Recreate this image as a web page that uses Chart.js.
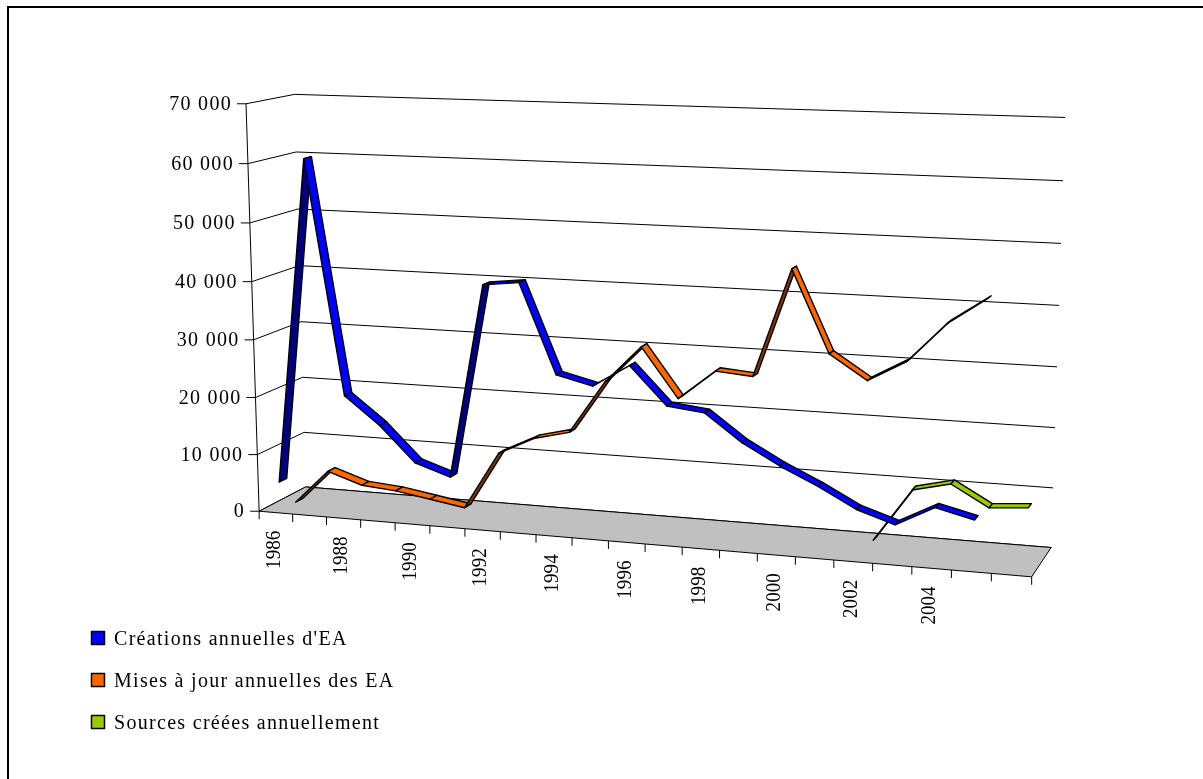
<!DOCTYPE html>
<html lang="fr">
<head>
<meta charset="utf-8">
<title>Créations et mises à jour annuelles</title>
<script src="https://cdn.jsdelivr.net/npm/chart.js@4/dist/chart.umd.min.js"></script>
<style>
  html, body { margin: 0; padding: 0; background: #ffffff; }
  canvas { display: block; }
</style>
</head>
<body>
<canvas id="chart" width="1203" height="779"></canvas>
<script>
// Categories: one cell per year on the floor of the 3D plot
const years = ['1986', '1987', '1988', '1989', '1990', '1991', '1992', '1993', '1994', '1995',
               '1996', '1997', '1998', '1999', '2000', '2001', '2002', '2003', '2004', '2005', '2006'];
// Years written under the floor edge
const labelledYears = ['1986', '1988', '1990', '1992', '1994', '1996', '1998', '2000', '2002', '2004'];
// Value axis ticks
const valueTicks = [0, 10000, 20000, 30000, 40000, 50000, 60000, 70000];

// Series values, one entry per year (null = no value)
const creationsEA = [5000, 61000, 21000, 16300, 10300, 8300, 41300, 42000, 27000, 25500,
                     29300, 23000, 22300, 17800, 14400, 11500, 8200, 6200, 9500, 8000, null];
const misesAJourEA = [0, 6000, 4000, 3500, 2500, 1500, 11500, 14500, 16000, 25000,
                      31300, 23000, 28000, 27500, 45500, 32000, 28000, 31500, 38000, 42300, null];
const sourcesCreees = [null, null, null, null, null, null, null, null, null, null,
                       null, null, null, null, null, null, 0, 9000, 10500, 7000, 7500];

const seriesNames = ["Créations annuelles d'EA", 'Mises à jour annuelles des EA', 'Sources créées annuellement'];
const seriesColors = ['#0000FF', '#FF6600', '#99CC00'];
const seriesShadeColors = ['#000080', '#803300', '#4D6600'];

// Perspective box of the plot: (category, value, depth) in [0,1] -> page pixels
const boxCorners = [
  [0, 0, 0, 259.5, 511], [1, 0, 0, 1032, 577], [0, 0, 1, 307, 488], [1, 0, 1, 1051, 547],
  [0, 1, 1, 295, 95], [1, 1, 1, 1065, 117], [0, 1, 0, 246, 104],
  [0, 6 / 7, 1, 297, 151], [0, 3 / 7, 1, 298.3, 321.7], [0, 2 / 7, 1, 301.7, 376.7],
  [0, 1 / 7, 1, 305, 432.3], [1, 6 / 7, 1, 1063.3, 181], [1, 5 / 7, 1, 1061, 244],
  [10 / 21, 0, 0, 609, 541], [5 / 21, 0, 0, 429, 525.5], [15 / 21, 0, 0, 795, 556.7]
];

function fitProjection(pairs) {
  const n = 11;
  const M = Array.from({ length: n }, () => new Array(n + 1).fill(0));
  const add = (row, b) => {
    for (let i = 0; i < n; i++) {
      for (let j = 0; j < n; j++) M[i][j] += row[i] * row[j];
      M[i][n] += row[i] * b;
    }
  };
  pairs.forEach(([u, v, w, x, y]) => {
    add([u, v, w, 1, 0, 0, 0, 0, -x * u, -x * v, -x * w], x);
    add([0, 0, 0, 0, u, v, w, 1, -y * u, -y * v, -y * w], y);
  });
  for (let c = 0; c < n; c++) {
    let piv = c;
    for (let r = c + 1; r < n; r++) if (Math.abs(M[r][c]) > Math.abs(M[piv][c])) piv = r;
    [M[c], M[piv]] = [M[piv], M[c]];
    for (let r = 0; r < n; r++) {
      if (r === c) continue;
      const f = M[r][c] / M[c][c];
      for (let k = c; k <= n; k++) M[r][k] -= f * M[c][k];
    }
  }
  const p = M.map((row, i) => row[n] / row[i]);
  return (u, v, w) => {
    const d = p[8] * u + p[9] * v + p[10] * w + 1;
    return {
      x: (p[0] * u + p[1] * v + p[2] * w + p[3]) / d,
      y: (p[4] * u + p[5] * v + p[6] * w + p[7]) / d
    };
  };
}
const project = fitProjection(boxCorners);

const SERIF = '"Liberation Serif", "Times New Roman", serif';
const rowDepth = [1 / 6, 1 / 2, 5 / 6];   // depth row of each series (front to back)
const ribbonHalf = 0.08;                   // half depth of a ribbon

function formatThousands(v) {
  return String(v).replace(/\B(?=(\d{3})+(?!\d))/g, ' ');
}

const excel3d = {
  id: 'excel3d',
  beforeDraw(chart) {
    const ctx = chart.ctx;
    ctx.save();
    ctx.fillStyle = '#ffffff';
    ctx.fillRect(0, 0, chart.width, chart.height);
    ctx.restore();
  },
  beforeDatasetsDraw() {
    return false;
  },
  afterDraw(chart) {
    const ctx = chart.ctx;
    const area = chart.chartArea;
    const xs = chart.scales.x;
    const ys = chart.scales.y;
    const U = px => (px - area.left) / (area.right - area.left);
    const V = py => (area.bottom - py) / (area.bottom - area.top);
    const nCat = chart.data.labels.length;
    const halfCell = (xs.getPixelForValue(1) - xs.getPixelForValue(0)) / 2;

    ctx.save();
    // chart frame
    ctx.strokeStyle = '#000000';
    ctx.lineWidth = 2;
    ctx.strokeRect(8, 7, 1240, 820);

    // walls: value gridlines on the side wall and the back wall
    ctx.lineWidth = 1;
    ctx.strokeStyle = '#000000';
    valueTicks.forEach(t => {
      const v = V(ys.getPixelForValue(t));
      const a = project(0, v, 0), b = project(0, v, 1), c = project(1, v, 1);
      ctx.beginPath();
      ctx.moveTo(a.x, a.y); ctx.lineTo(b.x, b.y); ctx.lineTo(c.x, c.y);
      ctx.stroke();
    });

    // floor
    const f0 = project(0, 0, 0), f1 = project(1, 0, 0), f2 = project(1, 0, 1), f3 = project(0, 0, 1);
    ctx.beginPath();
    ctx.moveTo(f0.x, f0.y); ctx.lineTo(f1.x, f1.y); ctx.lineTo(f2.x, f2.y); ctx.lineTo(f3.x, f3.y);
    ctx.closePath();
    ctx.fillStyle = '#C0C0C0';
    ctx.fill();
    ctx.stroke();

    // value axis line, ticks and labels
    const top = project(0, 1, 0);
    ctx.beginPath(); ctx.moveTo(f0.x, f0.y); ctx.lineTo(top.x, top.y); ctx.stroke();
    ctx.font = '20px ' + SERIF;
    ctx.letterSpacing = '1.3px';
    ctx.fillStyle = '#000000';
    ctx.textAlign = 'right';
    ctx.textBaseline = 'middle';
    valueTicks.forEach(t => {
      const p = project(0, V(ys.getPixelForValue(t)), 0);
      ctx.beginPath(); ctx.moveTo(p.x - 9, p.y); ctx.lineTo(p.x, p.y); ctx.stroke();
      ctx.fillText(formatThousands(t), p.x - 14, p.y + 1);
    });

    // category ticks along the front edge of the floor
    for (let k = 0; k <= nCat; k++) {
      const px = k < nCat ? xs.getPixelForValue(k) - halfCell : xs.getPixelForValue(nCat - 1) + halfCell;
      const p = project(U(px), 0, 0);
      ctx.beginPath(); ctx.moveTo(p.x, p.y); ctx.lineTo(p.x, p.y + 8); ctx.stroke();
    }
    // rotated year labels
    ctx.letterSpacing = '0px';
    ctx.font = '22px ' + SERIF;
    chart.data.labels.forEach((lab, i) => {
      if (!labelledYears.includes(lab)) return;
      const p = project(U(xs.getPixelForValue(i)), 0, 0);
      ctx.save();
      ctx.translate(p.x - 2, p.y + 18);
      ctx.rotate(-Math.PI / 2);
      ctx.scale(0.87, 1);
      ctx.textAlign = 'right';
      ctx.textBaseline = 'middle';
      ctx.fillText(lab, 0, 0);
      ctx.restore();
    });

    // ribbons, back row first
    ctx.lineJoin = 'round';
    for (let s = chart.data.datasets.length - 1; s >= 0; s--) {
      const meta = chart.getDatasetMeta(s);
      const wc = rowDepth[s];
      const pts = meta.data;
      for (let i = 0; i < pts.length - 1; i++) {
        const p0 = pts[i], p1 = pts[i + 1];
        if (p0.skip || p1.skip) continue;
        const u0 = U(p0.x), v0 = V(p0.y), u1 = U(p1.x), v1 = V(p1.y);
        const A = project(u0, v0, wc - ribbonHalf), B = project(u1, v1, wc - ribbonHalf);
        const C = project(u1, v1, wc + ribbonHalf), D = project(u0, v0, wc + ribbonHalf);
        const cross = (B.x - A.x) * (D.y - A.y) - (B.y - A.y) * (D.x - A.x);
        ctx.beginPath();
        ctx.moveTo(A.x, A.y); ctx.lineTo(B.x, B.y); ctx.lineTo(C.x, C.y); ctx.lineTo(D.x, D.y);
        ctx.closePath();
        ctx.fillStyle = cross < 0 ? seriesColors[s] : seriesShadeColors[s];
        ctx.fill();
        ctx.strokeStyle = '#000000';
        ctx.lineWidth = 1.4;
        ctx.stroke();
      }
    }

    // legend
    ctx.font = '20px ' + SERIF;
    ctx.letterSpacing = '1.3px';
    ctx.textAlign = 'left';
    ctx.textBaseline = 'alphabetic';
    chart.data.datasets.forEach((ds, i) => {
      const y0 = 631.5 + i * 42;
      ctx.fillStyle = ds.borderColor;
      ctx.fillRect(91.5, y0, 13, 13);
      ctx.lineWidth = 1.5;
      ctx.strokeStyle = '#000000';
      ctx.strokeRect(91.5, y0, 13, 13);
      ctx.fillStyle = '#000000';
      ctx.fillText(ds.label, 114, y0 + 13.5);
    });
    ctx.restore();
  }
};

new Chart(document.getElementById('chart'), {
  type: 'line',
  data: {
    labels: years,
    datasets: [
      { label: seriesNames[0], data: creationsEA, borderColor: seriesColors[0], backgroundColor: seriesColors[0] },
      { label: seriesNames[1], data: misesAJourEA, borderColor: seriesColors[1], backgroundColor: seriesColors[1] },
      { label: seriesNames[2], data: sourcesCreees, borderColor: seriesColors[2], backgroundColor: seriesColors[2] }
    ]
  },
  options: {
    responsive: false,
    animation: false,
    devicePixelRatio: 1,
    layout: { padding: { left: 100, right: 100, top: 100, bottom: 100 } },
    scales: {
      x: { type: 'category', offset: true, display: false },
      y: { min: 0, max: 70000, display: false, ticks: { stepSize: 10000 } }
    },
    plugins: { legend: { display: false }, tooltip: { enabled: false } }
  },
  plugins: [excel3d]
});
</script>
</body>
</html>
